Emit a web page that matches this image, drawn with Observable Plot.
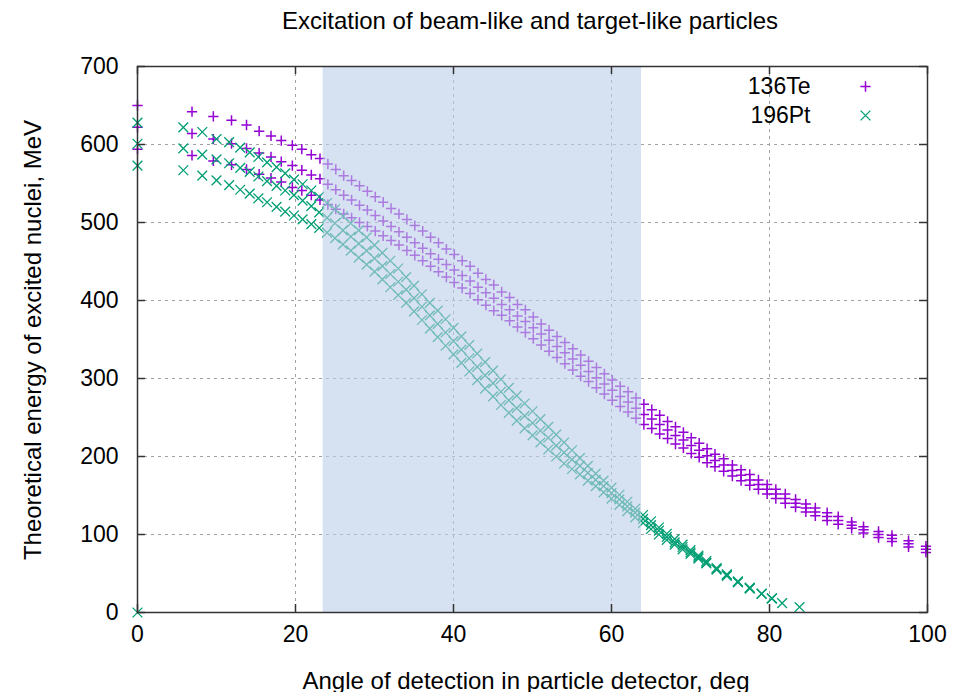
<!DOCTYPE html>
<html><head><meta charset="utf-8">
<script src="https://cdn.jsdelivr.net/npm/d3@7"></script>
<script src="https://cdn.jsdelivr.net/npm/@observablehq/plot@0.6"></script>
<style>
body{margin:0;background:#fff;}
#wrap{position:relative;width:959px;height:692px;overflow:hidden;font-family:"Liberation Sans",Arial,sans-serif;color:#000;}
#wrap svg{position:absolute;left:0;top:0;}
.lbl{position:absolute;white-space:nowrap;font-size:24px;line-height:24px;transform:translate(-50%,-50%);}
</style></head><body>
<div id="wrap"></div>
<script>
// ---- data ----
const chartTitle = "Excitation of beam-like and target-like particles";
const xLabel = "Angle of detection in particle detector, deg";
const yLabel = "Theoretical energy of excited nuclei, MeV";
const xTicks = [0, 20, 40, 60, 80, 100];
const yTicks = [0, 100, 200, 300, 400, 500, 600, 700];
const seriesNames = ["136Te", "196Pt"];
const shadeStart = 23.5, shadeEnd = 63.8;

const teAngle = [0, 6.9, 9.6, 11.9, 13.8, 15.4, 16.9, 18.2, 19.6, 20.8, 22.0, 23.1,
  24.1, 25.1, 26.1, 27.1, 28.1, 29.1, 30.1, 31.1, 32.1, 33.1, 34.1, 35.1, 36.1, 37.1, 38.1, 39.1,
  40.1, 41.1, 42.1, 43.1, 44.1, 45.1, 46.1, 47.1, 48.1, 49.1, 50.1, 51.1, 52.1, 53.1, 54.1, 55.1,
  56.1, 57.1, 58.1, 59.1, 60.1, 61.1, 62.1, 63.1, 64.1, 65.1, 66.1, 67.1, 68.1, 69.1, 70.1, 71.1,
  72.1, 73.1, 74.2, 75.3, 76.4, 77.5, 78.6, 79.7, 80.8, 82.0, 83.3, 84.6, 85.8, 87.3, 88.7, 90.4,
  91.9, 93.8, 95.5, 97.6, 99.8];
const teUpper = [650, 642, 636, 631, 625, 617, 611, 605, 599, 594, 587, 582,
  575, 568, 560, 554, 547, 540, 533, 526, 518, 511, 504, 496, 489, 481, 474, 466,
  459, 451, 444, 435, 427, 420, 411, 404, 395, 388, 379, 370, 362, 354, 346, 338,
  330, 322, 314, 306, 298, 290, 283, 275, 267, 260, 253, 245, 238, 231, 224, 217,
  210, 203, 197, 189, 183, 177, 170, 164, 158, 152, 145, 139, 134, 128, 123, 116,
  110, 104, 99, 92, 85];
const teMiddle = [622, 614, 607, 601, 595, 589, 584, 578, 573, 567, 561, 556,
  549, 542, 535, 529, 522, 516, 509, 502, 495, 488, 481, 474, 467, 460, 453, 446,
  439, 432, 425, 417, 410, 403, 395, 388, 380, 373, 365, 357, 349, 341, 333, 325,
  317, 309, 301, 293, 285, 277, 270, 262, 254, 248, 241, 234, 227, 221, 214, 208,
  201, 195, 189, 182, 176, 170, 164, 158, 152, 146, 140, 134, 129, 123, 118, 112,
  106, 100, 95, 88, 81];
const teLower = [594, 586, 579, 574, 568, 562, 557, 552, 545, 541, 535, 529,
  523, 517, 511, 506, 500, 495, 489, 483, 477, 471, 464, 458, 451, 444, 437, 430,
  423, 416, 409, 401, 394, 387, 381, 374, 366, 359, 351, 343, 335, 327, 319, 311,
  303, 296, 288, 280, 272, 264, 257, 249, 241, 236, 229, 223, 216, 211, 204, 199,
  192, 187, 181, 175, 169, 163, 158, 152, 146, 140, 135, 129, 124, 118, 113, 108,
  102, 96, 91, 84, 77];

const ptAngleUpper = [0, 5.8, 8.2, 10.0, 11.6, 13.0, 14.2, 15.3, 16.4, 17.6, 18.7, 19.8, 20.9, 22.0, 23.0,
  24, 25, 26, 27, 28, 29, 30, 31, 32, 33, 34, 35, 36, 37, 38, 39, 40, 41, 42, 43, 44, 45, 46, 47, 48, 49,
  50, 51, 52, 53, 54, 55, 56, 57, 58, 59, 60, 61, 62, 63, 64, 65, 66, 67, 68, 69, 70, 71, 72,
  73.3, 74.6, 76, 77.5, 79, 80.3, 81.6, 83.8];
const ptUpper = [628, 622, 616, 607, 603, 596, 590, 584, 577, 571, 563, 555, 549, 541, 533,
  525, 517, 508, 499, 490, 481, 471, 461, 451, 441, 430, 419, 408, 397, 387, 376, 365, 354, 343, 332, 321,
  310, 299, 288, 278, 268, 258, 248, 238, 228, 218, 208, 198, 188, 178, 169, 160, 151, 142, 133, 125,
  117, 109, 101, 94, 87, 80, 73, 66, 57, 49, 40, 32, 24, 18, 12, 7];
const ptAngleMiddle = [0, 5.8, 8.2, 10.0, 11.6, 13.0, 14.2, 15.3, 16.4, 17.6, 18.7, 19.8, 20.9, 22.0, 23.0,
  24, 25, 26, 27, 28, 29, 30, 31, 32, 33, 34, 35, 36, 37, 38, 39, 40, 41, 42, 43, 44, 45, 46, 47, 48, 49,
  50, 51, 52, 53, 54, 55, 56, 57, 58, 59, 60, 61, 62, 63, 64, 65, 66, 67, 68, 69, 70, 71, 72,
  73.3, 74.6, 76, 77.5, 79, 80.3];
const ptMiddle = [601, 595, 587, 581, 576, 570, 565, 559, 553, 547, 541, 535, 528, 521, 513,
  506, 499, 490, 482, 473, 464, 454, 444, 434, 424, 414, 403, 392, 381, 370, 359, 348, 337, 326, 315, 304,
  294, 283, 272, 262, 252, 243, 233, 224, 214, 205, 196, 188, 179, 170, 162, 153, 145, 136, 128, 120,
  112, 105, 97, 90, 84, 77, 71, 64, 56, 48, 39, 31, 24, 18];
const ptAngleLower = [0, 0, 5.8, 8.2, 10.0, 11.6, 13.0, 14.2, 15.3, 16.4, 17.6, 18.7, 19.8, 20.9, 22.0, 23.0,
  24, 25, 26, 27, 28, 29, 30, 31, 32, 33, 34, 35, 36, 37, 38, 39, 40, 41, 42, 43, 44, 45, 46, 47, 48, 49,
  50, 51, 52, 53, 54, 55, 56, 57, 58, 59, 60, 61, 62, 63, 64, 65, 66, 67, 68, 69, 70, 71, 72,
  73.3, 74.6, 76, 77.5, 79, 80.3];
const ptLower = [0, 573, 567, 560, 554, 548, 542, 537, 531, 526, 520, 514, 509, 504, 498, 493,
  487, 480, 472, 464, 455, 446, 437, 427, 417, 407, 397, 386, 375, 364, 353, 342, 331, 320, 309, 298, 287,
  277, 266, 256, 246, 236, 227, 218, 209, 200, 191, 184, 177, 169, 162, 154, 146, 138, 130, 122, 115,
  107, 100, 93, 87, 81, 75, 69, 63, 55, 47, 39, 31, 24, 18];

// ---- build ----
const rows = (name, xs, ys) => xs.map((a, i) => ({name, angle: a, energy: ys[i]}));
const te = [...rows("136Te", teAngle, teUpper), ...rows("136Te", teAngle, teMiddle), ...rows("136Te", teAngle, teLower)];
const pt = [...rows("196Pt", ptAngleUpper, ptUpper), ...rows("196Pt", ptAngleMiddle, ptMiddle), ...rows("196Pt", ptAngleLower, ptLower)];

const W = 959, H = 692, mL = 137, mR = 32, mT = 66, mB = 80;
const innerW = W - mL - mR, innerH = H - mT - mB;
const teColor = "#9400d3", ptColor = "#009e73", axisColor = "#333333";

const chart = Plot.plot({
  width: W, height: H,
  marginLeft: mL, marginRight: mR, marginTop: mT, marginBottom: mB,
  style: {fontFamily: '"Liberation Sans", Arial, sans-serif', fontSize: "23px", color: "#000", background: "transparent"},
  x: {domain: [xTicks[0], xTicks[xTicks.length - 1]]},
  y: {domain: [yTicks[0], yTicks[yTicks.length - 1]]},
  marks: [
    Plot.ruleX(xTicks.slice(1, -1), {stroke: "#a0a0a0", strokeWidth: 1, strokeDasharray: "3,4"}),
    Plot.ruleY(yTicks.slice(1, -1), {stroke: "#a0a0a0", strokeWidth: 1, strokeDasharray: "3,4"}),
    Plot.dot(te, {x: "angle", y: "energy", symbol: "plus", r: 3.4, stroke: teColor, fill: "none", strokeWidth: 1.5}),
    Plot.dot(pt, {x: "angle", y: "energy", symbol: "times", r: 4.5, stroke: ptColor, fill: "none", strokeWidth: 1.3}),
    Plot.rect([{start: shadeStart, end: shadeEnd}], {x1: "start", x2: "end", y1: yTicks[0], y2: yTicks[yTicks.length - 1], fill: "#bbcde8", fillOpacity: 0.6}),
    Plot.frame({stroke: axisColor, strokeWidth: 1.5}),
    Plot.tickX(xTicks, {x: d => d, stroke: axisColor, strokeWidth: 1.5, insetTop: innerH - 8}),
    Plot.tickX(xTicks, {x: d => d, stroke: axisColor, strokeWidth: 1.5, insetBottom: innerH - 8}),
    Plot.tickY(yTicks, {y: d => d, stroke: axisColor, strokeWidth: 1.5, insetRight: innerW - 8}),
    Plot.tickY(yTicks, {y: d => d, stroke: axisColor, strokeWidth: 1.5, insetLeft: innerW - 8}),
    Plot.axisX({ticks: xTicks, tickSize: 0, tickPadding: 13, label: null}),
    Plot.axisY({ticks: yTicks, tickSize: 0, tickPadding: 19, label: null}),
    // legend
    Plot.text([seriesNames[0]], {frameAnchor: "top-right", text: d => d, dx: -117, dy: 20, textAnchor: "end", lineAnchor: "middle"}),
    Plot.dot([seriesNames[0]], {frameAnchor: "top-right", dx: -62, dy: 20, symbol: "plus", r: 3.4, stroke: teColor, fill: "none", strokeWidth: 1.5}),
    Plot.text([seriesNames[1]], {frameAnchor: "top-right", text: d => d, dx: -117, dy: 49, textAnchor: "end", lineAnchor: "middle"}),
    Plot.dot([seriesNames[1]], {frameAnchor: "top-right", dx: -62, dy: 49, symbol: "times", r: 4.5, stroke: ptColor, fill: "none", strokeWidth: 1.3})
  ]
});

const wrap = document.getElementById("wrap");
wrap.appendChild(chart);
function label(text, x, y, rot) {
  const d = document.createElement("div");
  d.className = "lbl";
  d.textContent = text;
  d.style.left = x + "px";
  d.style.top = y + "px";
  if (rot) d.style.transform = "translate(-50%,-50%) rotate(-90deg)";
  wrap.appendChild(d);
}
label(chartTitle, 530, 21);
label(xLabel, 526, 681);
label(yLabel, 33, 340, true);
</script>
</body></html>
